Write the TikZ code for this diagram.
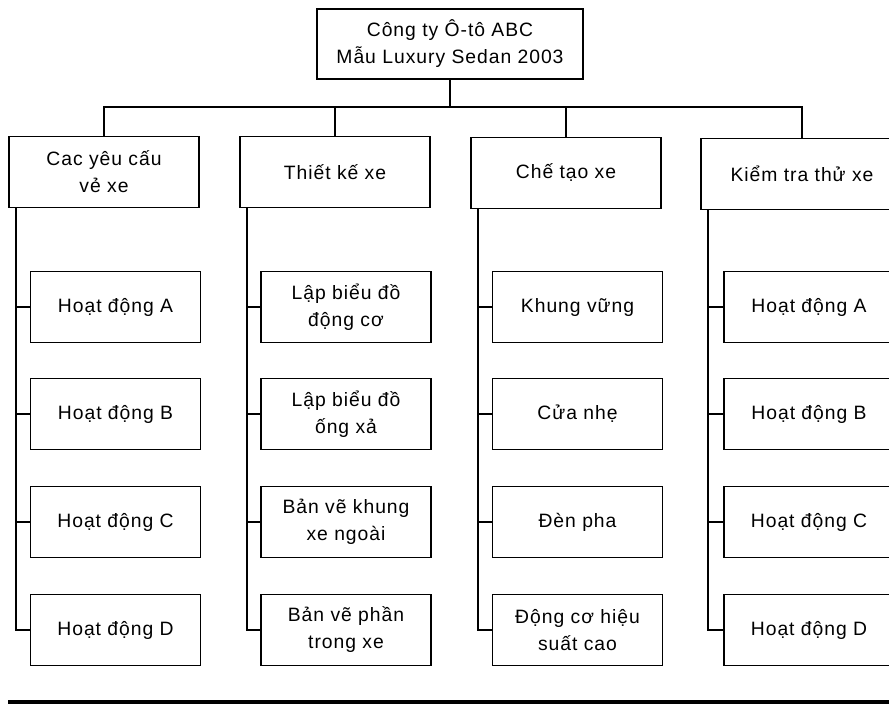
\documentclass[tikz,border=0pt]{standalone}
\usepackage{fontspec}
\setmainfont{Liberation Sans}[LetterSpace=5]
\begin{document}
\begin{tikzpicture}[x=0.3mm,y=-0.3mm,font=\fontsize{16.5}{23}\selectfont,
        box/.style={draw,line width=1.5pt,align=center,inner sep=0pt,minimum height=21.3mm},
        head/.style={box,minimum width=57mm},
        item/.style={box,minimum width=51mm},
        link/.style={line width=1.5pt}]
        \useasboundingbox (0,0) rectangle (889,705);
        %% Top
        \node[box,minimum width=80mm,minimum height=21mm] (top) at (450,44) {Công ty Ô-tô ABC\\Mẫu Luxury Sedan 2003};
        %% Groups
        \node[head] (req) at (104,172) {Cac yêu cấu\\vẻ xe};
        \node[head] (design) at (335,172) {Thiết kế xe};
        \node[head] (build) at (566,173) {Chế tạo xe};
        \node[head,minimum width=60.6mm] (test) at (802,174) {Kiểm tra thử xe};
        \coordinate (bus) at (450,107);
        \draw[link] (top.south) -- (bus);
        \draw[link] (req.north) |- (bus) -| (test.north);
        \foreach \g in {design,build}
            \draw[link] (\g.north) -- (\g.north |- bus);
        %% Items
        \node[item] (req1) at (115.5,307) {Hoạt động A};
        \node[item] (req2) at (115.5,414) {Hoạt động B};
        \node[item] (req3) at (115.5,522) {Hoạt động C};
        \node[item] (req4) at (115.5,630) {Hoạt động D};
        \node[item] (design1) at (346,307) {Lập biểu đồ\\động cơ};
        \node[item] (design2) at (346,414) {Lập biểu đồ\\ống xả};
        \node[item] (design3) at (346,522) {Bản vẽ khung\\xe ngoài};
        \node[item] (design4) at (346,630) {Bản vẽ phần\\trong xe};
        \node[item] (build1) at (577.5,307) {Khung vững};
        \node[item] (build2) at (577.5,414) {Cửa nhẹ};
        \node[item] (build3) at (577.5,522) {Đèn pha};
        \node[item] (build4) at (577.5,630) {Động cơ hiệu\\suất cao};
        \node[item] (test1) at (809,307) {Hoạt động A};
        \node[item] (test2) at (809,414) {Hoạt động B};
        \node[item] (test3) at (809,522) {Hoạt động C};
        \node[item] (test4) at (809,630) {Hoạt động D};
        \foreach \g in {req,design,build,test}{
            \coordinate (\g-s) at ([xshift=2.4mm]\g.south west);
            \draw[link] (\g-s) |- (\g4.west);
            \foreach \i in {1,2,3}
                \draw[link] (\g\i.west) -- (\g\i.west -| \g-s);
        }
        \draw[line width=3pt] (8,702) -- (900,702);
    \end{tikzpicture}
\end{document}
